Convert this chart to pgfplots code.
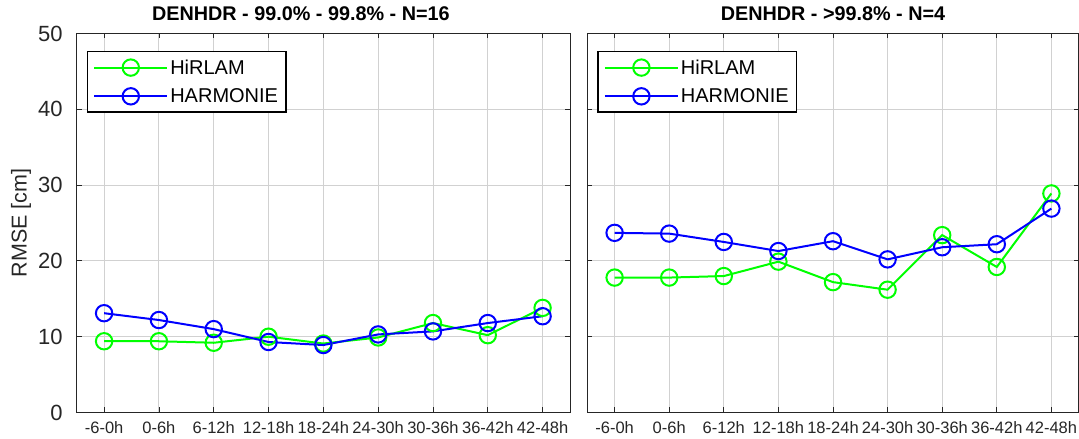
\documentclass[border=0pt]{standalone}
\usepackage{pgfplots}
\pgfplotsset{compat=1.18}
\usepackage{fontspec}
\setmainfont{Liberation Sans}

\definecolor{axgray}{gray}{0.15}
\definecolor{gridgray}{gray}{0.82}
\definecolor{hirlamc}{rgb}{0,1,0}
\definecolor{harmc}{rgb}{0,0,1}

\pgfplotsset{
  rmse/.style={
    scale only axis,
    height=379pt,
    xmin=0.5, xmax=9.5, ymin=0, ymax=50,
    xtick={1,...,9},
    xticklabels={-6-0h,0-6h,6-12h,12-18h,18-24h,24-30h,30-36h,36-42h,42-48h},
    ytick={0,10,...,50},
    xmajorgrids, ymajorgrids,
    grid style={gridgray, line width=0.9pt},
    major grid style={gridgray, line width=0.9pt},
    axis line style={axgray, line width=1pt},
    tick style={axgray, line width=0.8pt},
    major tick length=5pt,
    tick align=inside,
    /pgf/number format/assume math mode=true,
    xticklabel style={font=\fontsize{16.5}{18}\selectfont, text=axgray, yshift=-6pt},
    yticklabel style={font=\fontsize{22}{24}\selectfont, text=axgray, inner xsep=0pt, xshift=-14pt},
    title style={font=\bfseries\fontsize{19.8}{24}\selectfont, anchor=base, yshift=6.5pt},
    legend style={at={(0,1)}, anchor=north west, xshift=10pt, yshift=-17.5pt,
      draw=black, line width=1.2pt, fill=white,
      font=\fontsize{20}{24}\selectfont,
      inner xsep=6pt, inner ysep=6pt, row sep=9pt,
      /tikz/every even column/.append style={column sep=6pt}},
    legend cell align=left,
    legend image code/.code={%
      \draw[mark repeat=2, mark phase=2, #1]
        plot coordinates {(0pt,0pt) (36.5pt,0pt) (73pt,0pt)};},
  },
  hirlam/.style={color=hirlamc, line width=2pt, mark=o, mark size=8.2pt,
    mark options={line width=2pt}},
  harmonie/.style={color=harmc, line width=2pt, mark=o, mark size=8.2pt,
    mark options={line width=2pt}},
}

\begin{document}
\begin{tikzpicture}
\useasboundingbox (0,0) rectangle (1079pt,439pt);

% percentile band 99.0% - 99.8%
\begin{axis}[rmse,
  at={(76.7pt,26.5pt)}, anchor=south west, width=493.3pt,
  title={DENHDR - 99.0\% - 99.8\% - N=16},
  title style={at={(0.5,1)}, xshift=-22.5pt},
  ylabel={RMSE [cm]},
  ylabel style={font=\fontsize{21.5}{24}\selectfont, text=axgray,
    at={(0,0.5)}, anchor=center, yshift=55.7pt},
]
\addplot[hirlam] coordinates {(1,9.4) (2,9.4) (3,9.2) (4,10.0) (5,9.1) (6,9.9) (7,11.8) (8,10.2) (9,13.8)};
\addlegendentry{HiRLAM}
\addplot[harmonie] coordinates {(1,13.1) (2,12.2) (3,11.0) (4,9.3) (5,8.9) (6,10.3) (7,10.7) (8,11.8) (9,12.7)};
\addlegendentry{HARMONIE}
\end{axis}

% band above 99.8%
\begin{axis}[rmse,
  at={(587.3pt,26.5pt)}, anchor=south west, width=491.4pt,
  title={DENHDR - >99.8\% - N=4},
  title style={at={(0.5,1)}},
  yticklabel=\empty,
]
\addplot[hirlam] coordinates {(1,17.8) (2,17.8) (3,18.0) (4,19.9) (5,17.2) (6,16.2) (7,23.4) (8,19.2) (9,28.9)};
\addlegendentry{HiRLAM}
\addplot[harmonie] coordinates {(1,23.7) (2,23.6) (3,22.5) (4,21.3) (5,22.6) (6,20.2) (7,21.8) (8,22.2) (9,26.9)};
\addlegendentry{HARMONIE}
\end{axis}
\end{tikzpicture}
\end{document}
